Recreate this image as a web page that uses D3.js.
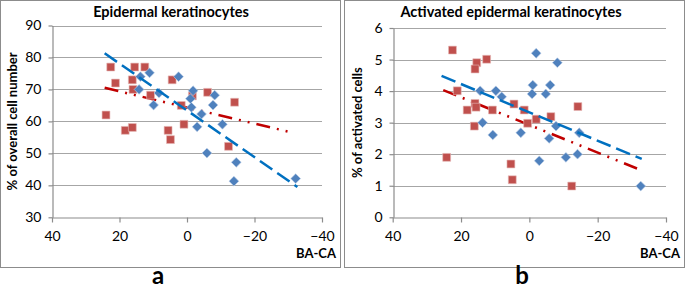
<!DOCTYPE html>
<html><head><meta charset="utf-8">
<script src="https://cdn.jsdelivr.net/npm/d3@7"></script>
<style>body{margin:0;background:#fff}svg{display:block}text{font-family:Lato,"Open Sans",sans-serif}</style>
</head><body><svg id="c" width="685" height="290"></svg>
<script>
// Panel a data
const aBlueX = [14.2,13.8,11.1,9.9,8.3,2.5,-1.0,-1.8,-1.3,-4.3,-3.0,-7.7,-8.2,-10.5,-5.9,-14.6,-13.9,-32.2];
const aBlueY = [70.0,74.0,75.2,65.1,68.9,74.0,67.1,69.6,64.4,62.3,58.3,65.1,68.2,59.1,50.1,47.2,41.3,42.1];
const aRedX = [24.0,22.6,21.2,18.3,16.2,16.2,16.0,15.5,12.5,10.8,4.4,5.6,4.9,1.7,0.9,-1.6,-6.1,-12.3,-14.1];
const aRedY = [62.0,77.0,72.0,57.2,58.1,73.0,70.0,77.0,77.0,68.2,73.0,57.2,54.3,65.0,59.1,68.0,69.1,52.2,66.0];
const aBlueTrend = {x:[24.4,-32.7], y:[81.3,39.5]};
const aRedTrend = {x:[24.4,-30.4], y:[70.5,56.7]};
// Panel b data
const bBlueX = [14.4,13.7,10.7,9.8,8.1,2.5,-0.8,-1.0,-2.0,-4.8,-6.1,-8.2,-5.8,-7.8,-14.6,-2.9,-10.7,-14.1,-32.6];
const bBlueY = [4.01,3.00,2.61,4.01,3.82,2.68,3.91,4.19,5.20,3.91,4.19,4.90,2.50,2.89,2.68,1.79,1.90,2.00,0.99];
const bRedX = [22.5,21.1,18.2,15.9,15.6,15.4,15.9,16.1,12.5,10.8,4.5,1.5,0.5,-2.0,-6.3,-14.2,24.2,5.4,5.0,-12.4];
const bRedY = [5.30,4.01,3.40,3.61,3.49,4.90,4.70,2.89,5.01,3.40,3.59,3.40,2.98,3.11,3.19,3.51,1.90,1.69,1.19,0.99];
const bBlueTrend = {x:[25.7,-32.9], y:[4.48,1.85]};
const bRedTrend = {x:[25.2,-31.9], y:[4.03,1.53]};

const xTicks = [40,20,0,-20,-40];
const aYTicks = [30,40,50,60,70,80,90];
const bYTicks = [0,1,2,3,4,5,6];

const svg = d3.select("#c");

function panel(cfg){
  const g = svg.append("g");
  g.append("rect").attr("x",cfg.box[0]+0.5).attr("y",cfg.box[1]+0.5)
    .attr("width",cfg.box[2]-cfg.box[0]).attr("height",cfg.box[3]-cfg.box[1])
    .attr("fill","#fff").attr("stroke","#8c8c8c").attr("stroke-width",1);
  const x = d3.scaleLinear().domain([40,-40]).range([cfg.x0,cfg.x1]);
  const y = d3.scaleLinear().domain(cfg.yDom).range([cfg.y1,cfg.y0]);
  // gridlines
  g.selectAll(".grid").data(cfg.yTicks.filter(t=>t!==cfg.yDom[0])).enter().append("line")
    .attr("x1",cfg.x0).attr("x2",cfg.x1).attr("y1",d=>Math.round(y(d))+0.5).attr("y2",d=>Math.round(y(d))+0.5)
    .attr("stroke","#a6a6a6").attr("stroke-width",1.2);
  // axes
  const xa = g.append("g").attr("transform",`translate(0,${Math.round(cfg.y1)+0.5})`)
    .call(d3.axisBottom(x).tickValues(cfg.xTicks).tickFormat(d3.format("d")).tickSize(5).tickSizeOuter(0).tickPadding(6));
  const ya = g.append("g").attr("transform",`translate(${Math.round(cfg.x0)+0.5},0)`)
    .call(d3.axisLeft(y).tickValues(cfg.yTicks).tickFormat(d3.format("d")).tickSize(4).tickSizeOuter(0).tickPadding(7));
  [xa,ya].forEach(a=>{
    a.select(".domain").attr("stroke","#8c8c8c").attr("stroke-width",1.2);
    a.selectAll(".tick line").attr("stroke","#8c8c8c").attr("stroke-width",1.2);
    a.selectAll(".tick text").attr("font-size",14).attr("fill","#000").style("font-family","Lato,sans-serif");
  });
  xa.selectAll(".tick text").attr("dy","0.9em");
  // trendlines
  const line = d3.line().x(d=>x(d[0])).y(d=>y(d[1]));
  g.append("path").datum(d3.zip(cfg.redT.x,cfg.redT.y)).attr("d",line)
    .attr("stroke","#c00000").attr("stroke-width",2.5).attr("fill","none")
    .attr("stroke-dasharray","14,7,2,7,2,7");
  // markers
  const sq = d3.symbol(d3.symbolSquare,62);
  g.selectAll(".red").data(d3.zip(cfg.rx,cfg.ry)).enter().append("path")
    .attr("d",sq).attr("transform",d=>`translate(${x(d[0])},${y(d[1])})`)
    .attr("fill","#c0504d").attr("stroke","#e6b8b7").attr("stroke-width",0.6);
  const dm = d3.symbol(d3.symbolSquare,48);
  g.selectAll(".blue").data(d3.zip(cfg.bx,cfg.by)).enter().append("path")
    .attr("d",dm).attr("transform",d=>`translate(${x(d[0])},${y(d[1])}) rotate(45)`)
    .attr("fill","#4f81bd").attr("stroke","#b9cde5").attr("stroke-width",0.6);
  g.append("path").datum(d3.zip(cfg.blueT.x,cfg.blueT.y)).attr("d",line)
    .attr("stroke","#0070c0").attr("stroke-width",2.5).attr("fill","none")
    .attr("stroke-dasharray","15,6");
  // titles
  g.append("text").attr("x",cfg.titleX).attr("y",17).attr("text-anchor","middle")
    .attr("font-size",14.5).attr("font-weight","bold").text(cfg.title);
  g.append("text").attr("transform",`translate(${cfg.yLabX},${(cfg.y0+cfg.y1)/2}) rotate(-90)`)
    .attr("text-anchor","middle").attr("font-size",13).attr("font-weight","bold").text(cfg.yLabel);
  g.append("text").attr("x",cfg.box[2]-4).attr("y",258).attr("text-anchor","end")
    .attr("font-size",13).attr("font-weight","bold").text("BA-CA");
  g.append("text").attr("x",cfg.letterX).attr("y",284).attr("text-anchor","middle")
    .attr("font-size",24).attr("font-weight","bold").text(cfg.letter);
}

panel({box:[0,0,340,267], x0:52, x1:322, y0:25.5, y1:217.3, yDom:[30,90], yTicks:aYTicks, xTicks:xTicks,
  bx:aBlueX, by:aBlueY, rx:aRedX, ry:aRedY, blueT:aBlueTrend, redT:aRedTrend,
  title:"Epidermal keratinocytes", titleX:171, yLabel:"% of overall cell number", yLabX:17, letter:"a", letterX:158});
panel({box:[344,0,684,267], x0:392.7, x1:666, y0:28, y1:217.3, yDom:[0,6], yTicks:bYTicks, xTicks:xTicks,
  bx:bBlueX, by:bBlueY, rx:bRedX, ry:bRedY, blueT:bBlueTrend, redT:bRedTrend,
  title:"Activated epidermal keratinocytes", titleX:511, yLabel:"% of activated cells", yLabX:362, letter:"b", letterX:522});
</script></body></html>
